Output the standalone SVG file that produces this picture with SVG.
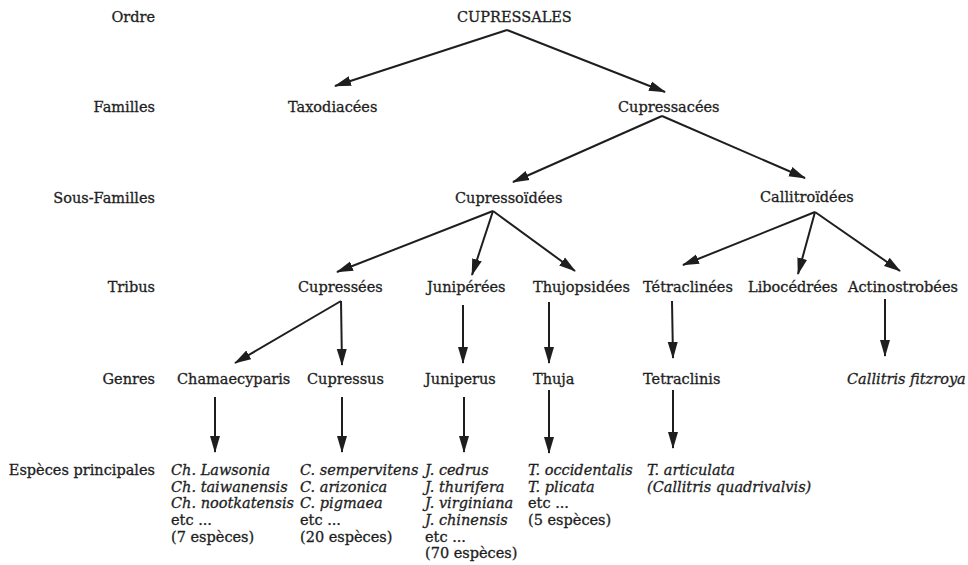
<svg xmlns="http://www.w3.org/2000/svg" width="968" height="565" viewBox="0 0 968 565">
<defs>
<style>
text{font-family:"DejaVu Serif","Liberation Serif",serif;font-size:14.5px;fill:#1e1e1e;stroke:#1e1e1e;stroke-width:0.3px}
.lab{text-anchor:end}
.it{font-style:italic}
.c{stroke:#1e1e1e;stroke-width:2;fill:none;marker-end:url(#ah)}
</style>
<marker id="ah" markerUnits="userSpaceOnUse" markerWidth="17" markerHeight="12" refX="16" refY="5.5" orient="auto">
<path d="M0,0.5 L17,5.5 L0,10.5 z" fill="#1e1e1e"/>
</marker>
</defs>
<rect width="968" height="565" fill="#fff"/>
<g id="labels">
<text class="lab" x="155" y="22">Ordre</text>
<text class="lab" x="155" y="112">Familles</text>
<text class="lab" x="155" y="203">Sous-Familles</text>
<text class="lab" x="155" y="292">Tribus</text>
<text class="lab" x="155" y="384">Genres</text>
<text class="lab" x="155" y="475">Espèces principales</text>
</g>
<g id="connectors">
<line class="c" x1="507" y1="30" x2="335" y2="86"/>
<line class="c" x1="507" y1="30" x2="665" y2="92"/>
<line class="c" x1="662" y1="116" x2="513" y2="182"/>
<line class="c" x1="662" y1="116" x2="805" y2="178"/>
<line class="c" x1="493" y1="211" x2="337" y2="272"/>
<line class="c" x1="493" y1="211" x2="472" y2="275"/>
<line class="c" x1="493" y1="211" x2="575" y2="271"/>
<line class="c" x1="815" y1="212" x2="683" y2="265"/>
<line class="c" x1="815" y1="212" x2="798" y2="274"/>
<line class="c" x1="815" y1="212" x2="900" y2="271"/>
<line class="c" x1="341" y1="301" x2="235" y2="363"/>
<line class="c" x1="341" y1="301" x2="342" y2="365"/>
<line class="c" x1="463" y1="305" x2="463" y2="363"/>
<line class="c" x1="549" y1="302" x2="549" y2="363"/>
<line class="c" x1="672" y1="301" x2="673" y2="358"/>
<line class="c" x1="885" y1="299" x2="885" y2="356"/>
<line class="c" x1="215" y1="397" x2="215" y2="452"/>
<line class="c" x1="342" y1="397" x2="342" y2="452"/>
<line class="c" x1="464" y1="397" x2="464" y2="452"/>
<line class="c" x1="549" y1="390" x2="549" y2="453"/>
<line class="c" x1="673" y1="390" x2="673" y2="448"/>
</g>
<g id="n-cupressales"><text x="457" y="22">CUPRESSALES</text></g>
<g id="n-taxodiacees"><text x="288" y="112">Taxodiacées</text></g>
<g id="n-cupressacees"><text x="618" y="112">Cupressacées</text></g>
<g id="n-cupressoidees"><text x="455" y="203">Cupressoïdées</text></g>
<g id="n-callitroidees"><text x="760" y="202">Callitroïdées</text></g>
<g id="n-cupressees"><text x="298" y="292">Cupressées</text></g>
<g id="n-juniperees"><text x="427" y="292">Junipérées</text></g>
<g id="n-thujopsidees"><text x="533" y="292">Thujopsidées</text></g>
<g id="n-tetraclinees"><text x="643" y="292">Tétraclinées</text></g>
<g id="n-libocedrees"><text x="748" y="292">Libocédrées</text></g>
<g id="n-actinostrobees"><text x="848" y="292">Actinostrobées</text></g>
<g id="n-chamaecyparis"><text x="177" y="384">Chamaecyparis</text></g>
<g id="n-cupressus"><text x="307" y="384">Cupressus</text></g>
<g id="n-juniperus"><text x="425" y="384">Juniperus</text></g>
<g id="n-thuja"><text x="533" y="384">Thuja</text></g>
<g id="n-tetraclinis"><text x="643" y="384">Tetraclinis</text></g>
<g id="n-callitris"><text class="it" x="847" y="384">Callitris fitzroya</text></g>
<g id="s-chamaecyparis">
<text class="it" x="171" y="475">Ch. Lawsonia</text>
<text class="it" x="171" y="492">Ch. taiwanensis</text>
<text class="it" x="171" y="508">Ch. nootkatensis</text>
<text x="171" y="525">etc ...</text>
<text x="171" y="542">(7 espèces)</text>
</g>
<g id="s-cupressus">
<text class="it" x="300" y="475">C. sempervitens</text>
<text class="it" x="300" y="492">C. arizonica</text>
<text class="it" x="300" y="508">C. pigmaea</text>
<text x="300" y="525">etc ...</text>
<text x="300" y="542">(20 espèces)</text>
</g>
<g id="s-juniperus">
<text class="it" x="425" y="475">J. cedrus</text>
<text class="it" x="425" y="492">J. thurifera</text>
<text class="it" x="425" y="508">J. virginiana</text>
<text class="it" x="425" y="525">J. chinensis</text>
<text x="425" y="542">etc ...</text>
<text x="425" y="558">(70 espèces)</text>
</g>
<g id="s-thuja">
<text class="it" x="528" y="475">T. occidentalis</text>
<text class="it" x="528" y="492">T. plicata</text>
<text x="528" y="508">etc ...</text>
<text x="528" y="525">(5 espèces)</text>
</g>
<g id="s-tetraclinis">
<text class="it" x="647" y="475">T. articulata</text>
<text class="it" x="647" y="492">(Callitris quadrivalvis)</text>
</g>
</svg>
